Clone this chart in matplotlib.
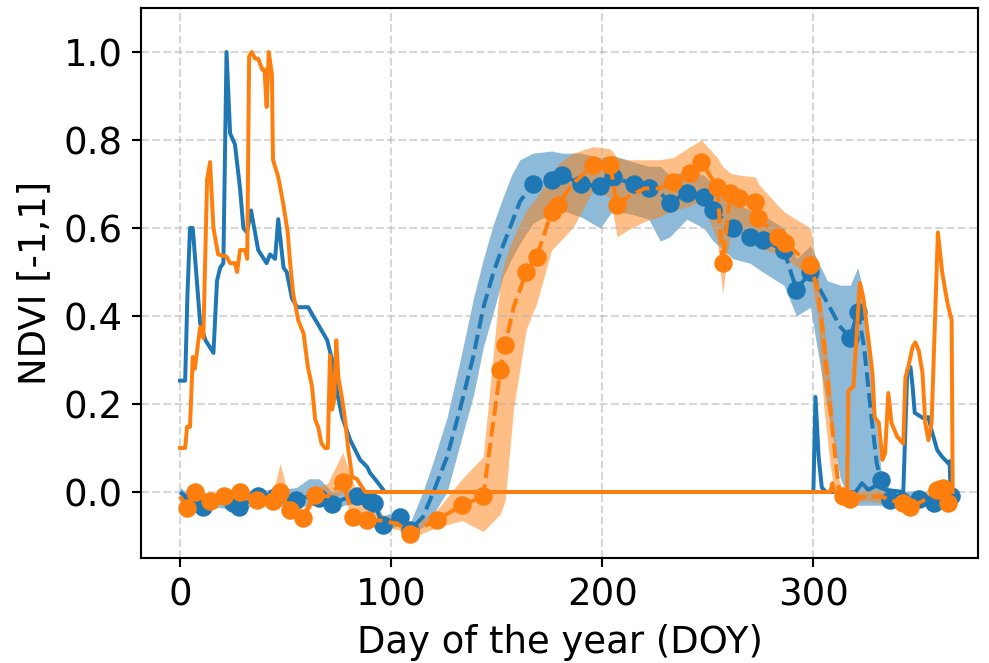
import numpy as np
import matplotlib.pyplot as plt

plt.rcParams['font.size'] = 14

# raw NDVI, pixel A (blue) and pixel B (orange)
raw_a_doy = [0, 2.4, 3.5, 4.7, 6, 9.5, 12, 15.8, 17.5, 19, 20.5, 22, 23.7, 26, 28.4, 30, 31.7,
             33.6, 35.5, 37, 41, 42.6, 45, 46.5, 49, 50.5, 53, 55.5, 60.7, 63, 65, 69.7, 72,
             74.4, 76.8, 80.6, 85.3, 88.6, 90, 93.4, 97, 300, 301, 302.5, 304, 306, 320, 323,
             326, 330, 334, 342.6, 344.5, 346, 347, 348, 352, 354.5, 356, 358.7, 361, 364,
             364.5, 365]
raw_a_ndvi = [0.253, 0.253, 0.45, 0.6, 0.6, 0.384, 0.345, 0.316, 0.48, 0.51, 0.52, 1.0, 0.815,
              0.79, 0.69, 0.6, 0.59, 0.64, 0.59, 0.55, 0.52, 0.54, 0.53, 0.62, 0.51, 0.50, 0.44,
              0.42, 0.42, 0.40, 0.384, 0.345, 0.30, 0.225, 0.17, 0.118, 0.073, 0.057, 0.043,
              0.023, 0.0, 0.0, 0.216, 0.08, 0.01, 0.0, 0.0, 0.02, 0.005, 0.015, 0.005, 0.0,
              0.277, 0.284, 0.24, 0.18, 0.168, 0.17, 0.14, 0.095, 0.08, 0.065, 0.07, 0.0]

raw_b_doy = [0, 2.4, 3.3, 4.7, 6, 7, 9.5, 11, 12.8, 14.2, 15.8, 18, 22, 23.7, 26, 27, 28.4, 30.8,
             31.8, 32.7, 34, 35.5, 37, 38.9, 40, 41, 42, 43.5, 44, 46.5, 48.8, 51, 52, 53.6, 56,
             58.5, 60.5, 62.5, 64, 65.4, 67, 68.7, 70, 71, 72, 73, 74, 75, 76.6, 78, 79.6, 81.5,
             83.7, 85, 87.7, 308, 309, 310, 316, 316.6, 319, 322, 323.7, 325.5, 328, 329, 331,
             332.7, 334, 335.5, 337, 339.8, 342.6, 343.6, 345, 347, 348.3, 350, 351.7, 353,
             354.5, 356, 359, 361, 363.5, 365.5, 366]
raw_b_ndvi = [0.1, 0.1, 0.148, 0.148, 0.307, 0.28, 0.375, 0.35, 0.71, 0.75, 0.60, 0.54, 0.535,
              0.52, 0.52, 0.50, 0.55, 0.55, 0.53, 0.99, 1.0, 0.985, 0.985, 0.96, 0.96, 0.875,
              1.0, 0.95, 0.755, 0.716, 0.657, 0.59, 0.527, 0.45, 0.39, 0.36, 0.285, 0.24, 0.164,
              0.148, 0.11, 0.10, 0.10, 0.31, 0.187, 0.21, 0.345, 0.26, 0.216, 0.17, 0.10, 0.034,
              0.03, 0.02, 0.0, 0.0, 0.02, 0.0, 0.0, 0.23, 0.24, 0.475, 0.44, 0.37, 0.27, 0.17,
              0.157, 0.073, 0.089, 0.225, 0.157, 0.125, 0.11, 0.26, 0.285, 0.33, 0.34, 0.32,
              0.27, 0.157, 0.118, 0.157, 0.59, 0.5, 0.43, 0.39, 0.0]

# reconstructed profile (mean, lower, upper), pixel A
fit_a_doy = [0, 5, 11, 18, 25, 28, 37, 45, 55, 61, 66, 72, 78, 84, 90, 92, 96, 104, 109, 115,
             120, 126.5, 132.7, 139, 143.7, 148.5, 153, 157, 161, 167, 176, 181, 190, 199, 205,
             215, 222, 227.5, 232, 240, 248, 252.6, 262, 270, 276, 286, 292, 298.6, 306.6,
             312.8, 317.5, 321, 324, 327.5, 330, 332, 336.5, 342, 350, 357, 365]
fit_a_ndvi = [0.0, -0.02, -0.034, -0.02, -0.025, -0.034, -0.01, -0.012, -0.018, -0.01, -0.014,
              -0.027, -0.015, -0.01, -0.02, -0.025, -0.075, -0.057, -0.086, -0.057, 0.0, 0.08,
              0.19, 0.31, 0.42, 0.50, 0.56, 0.61, 0.66, 0.70, 0.71, 0.72, 0.70, 0.695, 0.715,
              0.70, 0.69, 0.68, 0.657, 0.68, 0.67, 0.64, 0.60, 0.58, 0.573, 0.55, 0.46, 0.50,
              0.43, 0.375, 0.35, 0.41, 0.33, 0.17, 0.065, 0.027, -0.018, -0.02, -0.015, -0.025,
              -0.01]
fit_a_lo = [-0.01, -0.035, -0.045, -0.035, -0.04, -0.045, -0.025, -0.03, -0.035, -0.03, -0.03,
            -0.04, -0.03, -0.025, -0.035, -0.04, -0.09, -0.075, -0.095, -0.08, -0.05, 0.0, 0.11,
            0.22, 0.33, 0.41, 0.49, 0.53, 0.565, 0.61, 0.634, 0.64, 0.625, 0.60, 0.64, 0.63,
            0.62, 0.57, 0.58, 0.62, 0.60, 0.57, 0.53, 0.52, 0.50, 0.47, 0.40, 0.42, 0.19, 0.03,
            -0.02, -0.03, -0.03, -0.03, -0.03, -0.03, -0.035, -0.035, -0.03, -0.035, -0.02]
fit_a_hi = [0.01, -0.005, -0.02, -0.005, -0.01, -0.02, 0.005, 0.005, 0.01, 0.03, 0.03, 0.0,
            0.005, 0.005, -0.005, -0.01, -0.055, -0.04, -0.07, 0.0, 0.07, 0.17, 0.30, 0.44,
            0.53, 0.61, 0.67, 0.72, 0.755, 0.77, 0.775, 0.77, 0.77, 0.76, 0.765, 0.75, 0.74,
            0.74, 0.72, 0.73, 0.72, 0.70, 0.66, 0.64, 0.63, 0.60, 0.53, 0.56, 0.48, 0.47, 0.47,
            0.51, 0.45, 0.30, 0.15, 0.05, 0.0, 0.0, 0.005, -0.01, 0.0]
obs_a_doy = [5, 11, 25, 28, 37, 45, 55, 66, 72, 84, 90, 92, 96, 104, 109, 167, 176, 181, 190,
             199, 205, 215, 222, 232, 240, 248, 252.6, 262, 270, 276, 286, 292, 298.6, 317.5,
             321, 332, 336.5, 342, 350, 357, 365]

# reconstructed profile (mean, lower, upper), pixel B
fit_b_doy = [0, 3.3, 7, 14, 21, 28.4, 36.5, 44, 47.4, 52, 58, 64, 70, 77, 82, 88.6, 95, 103,
             109, 121.8, 133.6, 143.6, 151.7, 154, 158, 164, 169, 176, 179, 186, 195.7, 203.8,
             207, 212, 220, 227, 233.6, 241.7, 247, 254.5, 257, 260.7, 265, 272.5, 274, 283.4,
             286.7, 298.6, 302, 305, 308, 310.4, 312, 314, 317.5, 325, 332, 338, 342.6, 346,
             352, 358.7, 361.6, 364]
fit_b_ndvi = [-0.01, -0.036, 0.0, -0.02, -0.01, 0.0, -0.018, -0.02, 0.0, -0.04, -0.06, -0.007,
              -0.01, 0.023, -0.056, -0.063, -0.065, -0.072, -0.095, -0.063, -0.03, -0.01, 0.277,
              0.334, 0.42, 0.50, 0.535, 0.637, 0.652, 0.70, 0.743, 0.743, 0.652, 0.67, 0.69,
              0.69, 0.705, 0.725, 0.75, 0.693, 0.52, 0.68, 0.668, 0.66, 0.623, 0.58, 0.566,
              0.516, 0.46, 0.345, 0.19, 0.08, 0.01, -0.01, -0.015, -0.01, -0.01, -0.02, -0.025,
              -0.034, -0.02, 0.005, 0.01, -0.025]
fit_b_lo = [-0.02, -0.045, -0.015, -0.03, -0.025, -0.015, -0.03, -0.035, -0.02, -0.05, -0.07,
            -0.02, -0.025, 0.0, -0.07, -0.075, -0.08, -0.085, -0.105, -0.08, -0.065, -0.09,
            -0.05, -0.02, 0.19, 0.37, 0.43, 0.55, 0.565, 0.60, 0.686, 0.67, 0.58, 0.595, 0.615,
            0.625, 0.64, 0.65, 0.665, 0.57, 0.45, 0.59, 0.59, 0.58, 0.556, 0.54, 0.53, 0.49,
            0.40, 0.19, 0.06, -0.01, -0.02, -0.02, -0.025, -0.02, -0.025, -0.03, -0.035, -0.045,
            -0.03, -0.01, -0.005, -0.035]
fit_b_hi = [0.0, -0.02, 0.01, -0.005, 0.005, 0.01, 0.0, 0.0, 0.065, -0.02, -0.04, 0.01, 0.02,
            0.09, 0.02, -0.04, -0.05, -0.06, -0.08, -0.04, 0.03, 0.08, 0.48, 0.53, 0.58, 0.64,
            0.67, 0.72, 0.745, 0.77, 0.785, 0.78, 0.76, 0.755, 0.755, 0.755, 0.76, 0.785, 0.80,
            0.76, 0.74, 0.725, 0.72, 0.716, 0.70, 0.65, 0.635, 0.60, 0.50, 0.38, 0.25, 0.10,
            0.03, 0.005, 0.0, 0.005, 0.005, -0.005, -0.01, -0.02, -0.005, 0.03, 0.02, -0.01]
obs_b_doy = [3.3, 7, 14, 21, 28.4, 36.5, 44, 47.4, 52, 58, 64, 77, 82, 88.6, 109, 121.8, 133.6,
             143.6, 151.7, 154, 164, 169, 176, 179, 195.7, 203.8, 207, 233.6, 241.7, 247, 254.5,
             257, 260.7, 265, 272.5, 274, 283.4, 286.7, 298.6, 314, 317.5, 342.6, 346, 358.7,
             361.6, 364]


fig = plt.figure(figsize=(989 / 190, 663 / 190), dpi=190)
ax = fig.add_axes([0.1426, 0.1584, 0.8463, 0.8295])

pixels = [
    ('tab:blue', raw_a_doy, raw_a_ndvi, fit_a_doy, fit_a_ndvi, fit_a_lo, fit_a_hi, obs_a_doy),
    ('tab:orange', raw_b_doy, raw_b_ndvi, fit_b_doy, fit_b_ndvi, fit_b_lo, fit_b_hi, obs_b_doy),
]
for c, rd, rv, fd, fv, lo, hi, od in pixels:
    fd = np.array(fd)
    fv = np.array(fv)
    ax.plot(rd, rv, '-', color=c)
    ax.fill_between(fd, lo, hi, color=c, alpha=0.5, linewidth=0)
    ax.plot(fd, fv, '--', color=c)
    m = np.isin(fd, od)
    ax.plot(fd[m], fv[m], 'o', color=c)

ax.set_xlim(-18.5, 378)
ax.set_ylim(-0.15, 1.1)
ax.grid(linestyle='--', alpha=0.5)
ax.set_xlabel('Day of the year (DOY)')
ax.set_ylabel('NDVI [-1,1]')

fig.savefig('out.png', dpi=190)
